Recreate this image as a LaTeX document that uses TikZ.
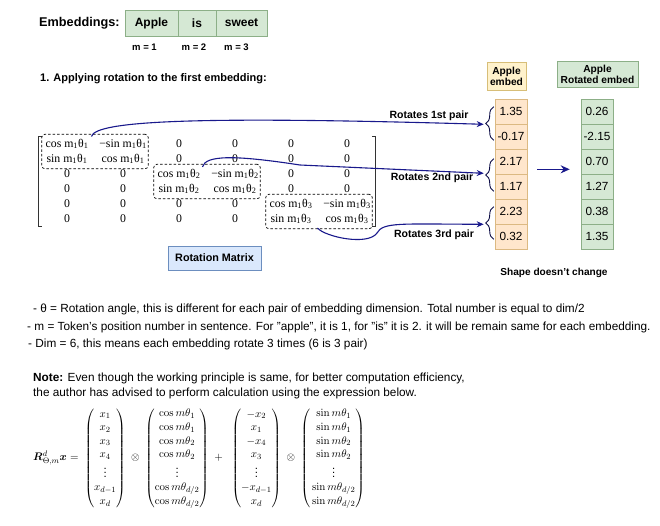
\documentclass[tikz,border=0pt]{standalone}
\usepackage{amsmath,bm}
\usepackage[no-math]{fontspec}
\setmainfont{Liberation Sans}
\newfontfamily\serif{Liberation Serif}
\usetikzlibrary{arrows.meta,fit,decorations.pathreplacing,matrix,calc}
\definecolor{navy}{RGB}{25,25,140}
\definecolor{gfill}{HTML}{D5E8D4}
\definecolor{gdraw}{RGB}{140,175,135}
\definecolor{ofill}{HTML}{FFE6CC}
\definecolor{odraw}{RGB}{220,185,130}
\definecolor{yfill}{HTML}{FFF2CC}
\definecolor{ydraw}{RGB}{215,190,120}
\definecolor{bfill}{HTML}{DAE8FC}
\definecolor{bdraw}{HTML}{6C8EBF}
\newcommand\trig[2]{#1 m\textsubscript{1}θ\textsubscript{#2}}
\newcommand\fs[1]{\fontsize{#1}{#1}\selectfont}
\tikzset{
  embbox/.style={draw=gdraw,fill=gfill,line width=0.8pt,minimum height=26pt,inner sep=0pt,font=\bfseries\fs{12}},
  mlabel/.style={font=\bfseries\fs{9.5}},
  ocell/.style={draw=odraw,fill=ofill,line width=0.6pt,minimum width=32pt,minimum height=25pt,inner sep=0pt,font=\fs{11.8}},
  gcell/.style={draw=gdraw,fill=gfill,line width=0.6pt,minimum width=32pt,minimum height=25pt,inner sep=0pt,font=\fs{11.8}},
  dbox/.style={draw,dashed,dash pattern=on 2.5pt off 2pt,rounded corners=3pt,inner xsep=-3pt,inner ysep=2pt,line width=0.7pt},
  conn/.style={draw=navy,line width=1.1pt,-{Stealth[length=7pt,width=6pt]}},
  pbrace/.style={draw=navy!50!black,line width=0.9pt,decorate,decoration={brace,mirror,amplitude=8pt}},
  blabel/.style={font=\bfseries\fs{10.5}},
  txt/.style={anchor=west,font=\fs{11.8},inner sep=0pt},
}
\begin{document}
\begin{tikzpicture}[x=1pt,y=-1pt]
\useasboundingbox[fill=white] (0,0) rectangle (660,525);

% Embeddings row
\node[anchor=west,font=\bfseries\fs{12.7},inner sep=0pt] (emb) at (39,23) {Embeddings:};
\node[embbox,minimum width=53pt] (e1) at (151.5,23) {Apple};
\node[embbox,minimum width=38pt] (e2) at (197,23) {is};
\node[embbox,minimum width=51pt] (e3) at (241.5,23) {sweet};
\node[mlabel] (m1) at (144.5,47) {m = 1};
\node[mlabel] (m2) at (194,47) {m = 2};
\node[mlabel] (m3) at (236.5,47) {m = 3};
\node[anchor=west,font=\bfseries\fs{11},inner sep=0pt] (step1) at (40,79) {1. Applying rotation to the first embedding:};

% Rotation matrix
\matrix (M) at (207,181.5) [matrix of nodes,inner sep=0pt,column sep=0pt,row sep=0pt,
  nodes={font=\serif\fs{11.8},minimum width=56pt,minimum height=15pt,inner sep=0pt,text height=8.5pt,text depth=2.5pt,anchor=center}] {
\trig{cos}{1} & −\trig{sin}{1} & 0 & 0 & 0 & 0 \\
\trig{sin}{1} & \trig{cos}{1} & 0 & 0 & 0 & 0 \\
0 & 0 & \trig{cos}{2} & −\trig{sin}{2} & 0 & 0 \\
0 & 0 & \trig{sin}{2} & \trig{cos}{2} & 0 & 0 \\
0 & 0 & 0 & 0 & \trig{cos}{3} & −\trig{sin}{3} \\
0 & 0 & 0 & 0 & \trig{sin}{3} & \trig{cos}{3} \\
};
\draw[line width=0.9pt,black!80] ([xshift=3pt]M.north west) -- (M.north west) -- (M.south west) -- ([xshift=3pt]M.south west);
\draw[line width=0.9pt,black!80] ([xshift=-3pt]M.north east) -- (M.north east) -- (M.south east) -- ([xshift=-3pt]M.south east);
\node[dbox,fit=(M-1-1)(M-2-2)] (B1) {};
\node[dbox,fit=(M-3-3)(M-4-4)] (B2) {};
\node[dbox,fit=(M-5-5)(M-6-6)] (B3) {};
\node[draw=bdraw,fill=bfill,line width=0.8pt,minimum width=93pt,minimum height=24pt,inner sep=0pt,font=\bfseries\fs{10.8}] (RM) at (214.5,258) {Rotation Matrix};

% Apple embed column
\node[draw=ydraw,fill=yfill,line width=0.6pt,minimum width=39pt,minimum height=28pt,inner sep=0pt,align=center,font=\bfseries\fs{10.2}] (ah) at (506.5,76) {Apple\\[1pt]embed};
\node[ocell] (a1) at (511,111.5) {1.35};
\node[ocell] (a2) at (511,136.5) {-0.17};
\node[ocell] (a3) at (511,161.5) {2.17};
\node[ocell] (a4) at (511,186.5) {1.17};
\node[ocell] (a5) at (511,211.5) {2.23};
\node[ocell] (a6) at (511,236.5) {0.32};

% Rotated column
\node[draw=gdraw,fill=gfill,line width=0.6pt,minimum width=81pt,minimum height=26pt,inner sep=0pt,align=center,font=\bfseries\fs{10.2}] (rh) at (597.5,74) {Apple\\[1pt]Rotated embed};
\node[gcell] (r1) at (597,111.5) {0.26};
\node[gcell] (r2) at (597,136.5) {-2.15};
\node[gcell] (r3) at (597,161.5) {0.70};
\node[gcell] (r4) at (597,186.5) {1.27};
\node[gcell] (r5) at (597,211.5) {0.38};
\node[gcell] (r6) at (597,236.5) {1.35};
\node[font=\bfseries\fs{10.1}] (shape) at (554,273) {Shape doesn't change};

% Braces
\draw[pbrace] ([xshift=-1pt,yshift=17pt]a2.north west) -- ([xshift=-1pt,yshift=-16pt]a1.south west);
\draw[pbrace] ([xshift=-1pt,yshift=15pt]a4.north west) -- ([xshift=-1pt,yshift=-17pt]a3.south west);
\draw[pbrace] ([xshift=-1pt,yshift=17pt]a6.north west) -- ([xshift=-1pt,yshift=-15pt]a5.south west);
\coordinate (t1) at ($(a1.south west)+(-11,0)$);
\coordinate (t2) at ($(a3.south west)+(-11,-1)$);
\coordinate (t3) at ($(a5.south west)+(-11,0)$);

% Pair labels
\node[blabel] (l1) at (429,116) {Rotates 1st pair};
\node[blabel] (l2) at (432,178) {Rotates 2nd pair};
\node[blabel] (l3) at (434,235) {Rotates 3rd pair};

% Connectors
\coordinate (s1) at ($(B1.north west)+(50,2.5)$);
\coordinate (s2) at ($(B2.north west)+(49,3)$);
\coordinate (s3) at ($(B3.south west)+(52,-1)$);
\draw[conn] (s1) .. controls ($(s1)+(4,-16)$) and (200,116) .. (t1);
\draw[conn] (s2) .. controls ($(s2)+(3,-12)$) and (235,155) .. (300,165) -- (t2);
\draw[conn] (s3) .. controls ($(s3)+(8,9)$) and (368,246) .. (377,233) .. controls (383,222) and (400,224) .. (t3);
\draw[navy,line width=1.5pt,-{Stealth[length=9pt,width=8pt]}] ($(a3.south east)+(10,-5)$) -- ($(r3.south west)+(-11,-5)$);

% Notes
\node[txt] (n1) at (33,309) {- θ = Rotation angle, this is different for each pair of embedding dimension. Total number is equal to dim/2};
\node[txt] (n2) at (27,327) {- m = Token's position number in sentence. For "apple", it is 1, for "is" it is 2. it will be remain same for each embedding.};
\node[txt] (n3) at (28,344) {- Dim = 6, this means each embedding rotate 3 times (6 is 3 pair)};
\node[txt] (note1) at (33,378) {\textbf{Note:} Even though the working principle is same, for better computation efficiency,};
\node[txt] (note2) at (33,393) {the author has advised to perform calculation using the expression below.};

% Formula
\node[anchor=west,inner sep=0pt,font=\fontsize{11.3}{13.6}\selectfont] (formula) at (33,458) {$\bm{R}^d_{\Theta,m}\bm{x}=\;
\begin{pmatrix} x_1\\ x_2\\ x_3\\ x_4\\ \vdots\\ x_{d-1}\\ x_d \end{pmatrix}\;\otimes\;
\begin{pmatrix} \cos m\theta_1\\ \cos m\theta_1\\ \cos m\theta_2\\ \cos m\theta_2\\ \vdots\\ \cos m\theta_{d/2}\\ \cos m\theta_{d/2} \end{pmatrix}\;+\;\;
\begin{pmatrix} -x_2\\ x_1\\ -x_4\\ x_3\\ \vdots\\ -x_{d-1}\\ x_d \end{pmatrix}\;\otimes\;
\begin{pmatrix} \,\sin m\theta_1\\ \,\sin m\theta_1\\ \,\sin m\theta_2\\ \,\sin m\theta_2\\ \,\vdots\\ \,\sin m\theta_{d/2}\\ \,\sin m\theta_{d/2} \end{pmatrix}$};
\end{tikzpicture}
\end{document}
